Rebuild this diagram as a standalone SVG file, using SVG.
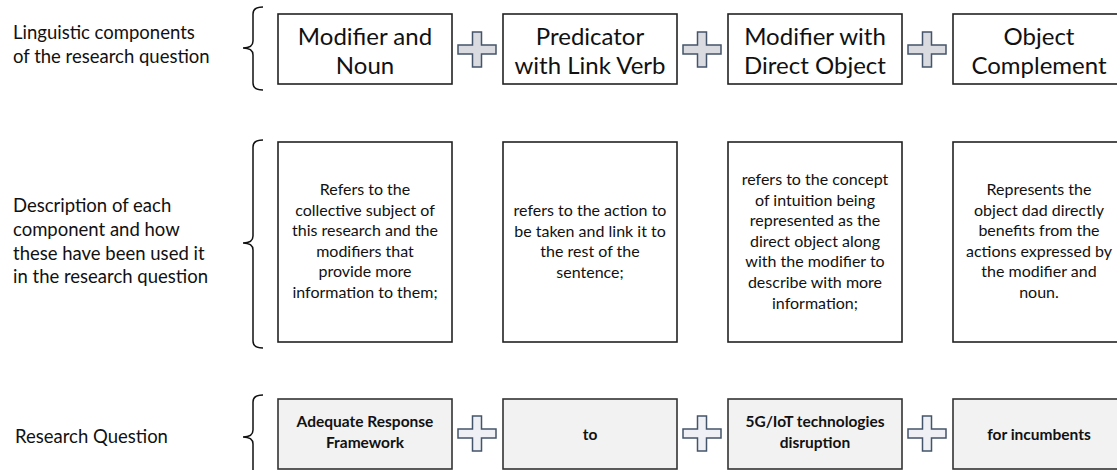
<svg xmlns="http://www.w3.org/2000/svg" xmlns:xlink="http://www.w3.org/1999/xlink" width="1117" height="470" viewBox="0 0 1117 470">
  <style>
    text { font-family: Lato, "Liberation Sans", "DejaVu Sans", sans-serif; fill: #111; }
    .label { font-size: 18.5px; }
    .head { font-size: 24px; text-anchor: middle; }
    .desc { font-size: 16px; text-anchor: middle; }
    .rq { font-size: 15.5px; font-weight: bold; text-anchor: middle; }
    .box { fill: #fff; stroke: #222; stroke-width: 1.6; }
    .rqbox { fill: #f2f2f2; stroke: #333; stroke-width: 1.6; }
    .brace { fill: none; stroke: #111; stroke-width: 1.5; }
    .plus { stroke: #44546a; stroke-width: 1.5; stroke-linejoin: miter; }
    .plus-top { fill: #d9dbe0; }
    .plus-rq { fill: #eef0f5; }
  </style>
  <defs>
    <path id="plus" d="M -4.5 -17.5 H 4.5 V -4.5 H 19 V 4.5 H 4.5 V 17.5 H -4.5 V 4.5 H -19 V -4.5 H -4.5 Z"/>
  </defs>

  <rect width="1117" height="470" fill="#fff"/>

  <!-- row labels -->
  <g id="row-labels">
    <text class="label" x="13" y="39">Linguistic components<tspan x="13" y="63">of the research question</tspan></text>
    <text class="label" x="13" y="212">Description of each<tspan x="13" y="235.5">component and how</tspan><tspan x="13" y="259.5">these have been used it</tspan><tspan x="13" y="283">in the research question</tspan></text>
    <text class="label" x="15" y="443">Research Question</text>
  </g>

  <!-- curly braces grouping each row -->
  <g id="braces">
    <path class="brace" d="M 263 7 Q 253 7 253 14 V 41 Q 253 48 243 48 Q 253 48 253 55 V 83 Q 253 90 263 90"/>
    <path class="brace" d="M 263 140 Q 253 140 253 147 V 236 Q 253 243 243 243 Q 253 243 253 250 V 341 Q 253 348 263 348"/>
    <path class="brace" d="M 263 395 Q 253 395 253 402 V 430 Q 253 437 243 437 Q 253 437 253 444 V 472 Q 253 479 263 479"/>
  </g>

  <!-- linguistic components -->
  <g id="comp-modifier-noun">
    <rect class="box" x="278" y="14" width="174" height="70"/>
    <text class="head" x="365" y="45">Modifier and<tspan x="365" y="74">Noun</tspan></text>
  </g>
  <g id="comp-predicator">
    <rect class="box" x="503" y="14" width="174" height="70"/>
    <text class="head" x="590" y="45">Predicator<tspan x="590" y="74">with Link Verb</tspan></text>
  </g>
  <g id="comp-direct-object">
    <rect class="box" x="728" y="14" width="174" height="70"/>
    <text class="head" x="815" y="45">Modifier with<tspan x="815" y="74">Direct Object</tspan></text>
  </g>
  <g id="comp-object-complement">
    <rect class="box" x="953" y="14" width="174" height="70"/>
    <text class="head" x="1039" y="45">Object<tspan x="1039" y="74">Complement</tspan></text>
  </g>

  <!-- descriptions -->
  <g id="desc-modifier-noun">
    <rect class="box" x="278" y="142" width="174" height="200"/>
    <text class="desc" x="365" y="195">Refers to the<tspan x="365" y="215.6">collective subject of</tspan><tspan x="365" y="236.2">this research and the</tspan><tspan x="365" y="256.8">modifiers that</tspan><tspan x="365" y="277.4">provide more</tspan><tspan x="365" y="298">information to them;</tspan></text>
  </g>
  <g id="desc-predicator">
    <rect class="box" x="503" y="142" width="174" height="200"/>
    <text class="desc" x="590" y="216">refers to the action to<tspan x="590" y="236.6">be taken and link it to</tspan><tspan x="590" y="257.2">the rest of the</tspan><tspan x="590" y="277.8">sentence;</tspan></text>
  </g>
  <g id="desc-direct-object">
    <rect class="box" x="728" y="142" width="174" height="200"/>
    <text class="desc" x="815" y="185">refers to the concept<tspan x="815" y="205.6">of intuition being</tspan><tspan x="815" y="226.2">represented as the</tspan><tspan x="815" y="246.8">direct object along</tspan><tspan x="815" y="267.4">with the modifier to</tspan><tspan x="815" y="288">describe with more</tspan><tspan x="815" y="308.6">information;</tspan></text>
  </g>
  <g id="desc-object-complement">
    <rect class="box" x="953" y="142" width="174" height="200"/>
    <text class="desc" x="1039" y="195">Represents the<tspan x="1039" y="215.6">object dad directly</tspan><tspan x="1039" y="236.2">benefits from the</tspan><tspan x="1039" y="256.8">actions expressed by</tspan><tspan x="1039" y="277.4">the modifier and</tspan><tspan x="1039" y="298">noun.</tspan></text>
  </g>

  <!-- research question parts -->
  <g id="rq-framework">
    <rect class="rqbox" x="278" y="399" width="174" height="70"/>
    <text class="rq" x="365" y="427">Adequate Response<tspan x="365" y="448">Framework</tspan></text>
  </g>
  <g id="rq-to">
    <rect class="rqbox" x="503" y="399" width="174" height="70"/>
    <text class="rq" x="590" y="440">to</text>
  </g>
  <g id="rq-disruption">
    <rect class="rqbox" x="728" y="399" width="174" height="70"/>
    <text class="rq" x="815" y="427">5G/IoT technologies<tspan x="815" y="448">disruption</tspan></text>
  </g>
  <g id="rq-incumbents">
    <rect class="rqbox" x="953" y="399" width="174" height="70"/>
    <text class="rq" x="1039" y="440">for incumbents</text>
  </g>

  <!-- plus signs joining the parts -->
  <g id="connectors">
    <use href="#plus" xlink:href="#plus" class="plus plus-top" transform="translate(477 49.5)"/>
    <use href="#plus" xlink:href="#plus" class="plus plus-top" transform="translate(702 49.5)"/>
    <use href="#plus" xlink:href="#plus" class="plus plus-top" transform="translate(927 49.5)"/>
    <use href="#plus" xlink:href="#plus" class="plus plus-rq" transform="translate(477 433.5)"/>
    <use href="#plus" xlink:href="#plus" class="plus plus-rq" transform="translate(702 433.5)"/>
    <use href="#plus" xlink:href="#plus" class="plus plus-rq" transform="translate(927 433.5)"/>
  </g>
</svg>
